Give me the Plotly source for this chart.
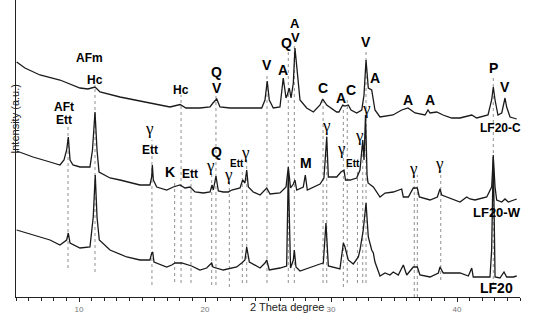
import plotly.graph_objects as go

# XRD patterns, 2 theta (deg) vs intensity (a.u.)
lf20c_2theta = [5.05, 5.71, 6.90, 8.49, 10.08, 10.71, 11.27, 11.67, 13.25, 14.84, 17.22, 18.02, 18.49, 19.60,
                20.40, 20.63, 20.93, 21.19, 21.98, 24.50, 24.76, 24.94, 25.10, 25.42, 25.95, 26.21, 26.43,
                26.53, 26.69, 26.83, 27.01, 27.14, 27.33, 27.54, 28.07, 28.60, 29.13, 29.34, 29.66, 30.45,
                30.63, 30.93, 31.11, 31.37, 31.59, 32.04, 32.44, 32.62, 32.78, 32.96, 33.23, 33.49, 33.89,
                34.92, 35.61, 36.11, 36.67, 37.46, 37.70, 37.86, 38.39, 38.89, 39.58, 40.24, 41.17, 41.56,
                42.46, 42.75, 42.88, 43.02, 43.25, 43.55, 43.81, 43.94, 44.21, 44.74]
lf20c_int = [235, 229, 222, 217, 209, 208, 210, 205, 200, 196, 190, 192.5, 189, 189,
             190, 194, 198, 190, 189, 189, 197, 216, 197, 189, 190, 219, 199,
             202, 209, 199, 214, 249, 220, 197, 189, 185, 192, 198, 192, 185,
             185, 192, 191, 192, 187, 184, 187, 202, 237, 209, 207, 187, 180,
             182, 187, 189, 184, 182, 187, 184, 185, 182, 179, 179, 182, 179,
             182, 197, 210, 197, 182, 184, 199, 190, 180, 178]

lf20w_2theta = [5.05, 6.35, 7.70, 8.49, 8.81, 9.02, 9.15, 9.29, 9.52, 10.08, 10.87, 11.07, 11.27, 11.43, 11.59,
                12.46, 13.25, 14.29, 14.84, 15.63, 15.77, 15.82, 15.90, 16.17, 16.96, 17.48, 18.02, 18.41,
                18.81, 19.21, 19.87, 20.40, 20.56, 20.66, 20.87, 21.06, 21.45, 21.85, 22.12, 22.78, 22.99,
                23.17, 23.31, 23.44, 23.83, 24.37, 24.63, 24.90, 25.16, 25.95, 26.43, 26.61, 26.79, 27.01,
                27.14, 27.28, 27.80, 27.96, 28.12, 29.13, 29.44, 29.66, 29.79, 30.45, 30.79, 31.03, 31.15,
                31.51, 32.04, 32.30, 32.52, 32.62, 32.74, 32.86, 32.94, 33.36, 33.89, 34.29, 34.94, 35.61,
                35.74, 36.14, 36.53, 36.85, 37.01, 37.86, 38.44, 38.65, 38.79, 39.44, 40.24, 40.77, 41.03,
                41.43, 42.36, 42.75, 42.88, 43.02, 43.15, 43.55, 43.81, 44.07, 44.46, 44.74]
lf20w_int = [146, 140, 135, 132, 137, 147, 160, 137, 132, 130, 130, 147, 185, 147, 125,
             119, 117, 114, 112, 112, 120, 132, 117, 110, 107, 110, 112, 109,
             110, 105, 104, 105, 112, 107, 121, 106, 105, 105, 107, 109, 117,
             114, 127, 110, 105, 102, 105, 109, 103, 104, 110, 130, 109, 113,
             117, 107, 110, 122, 107, 113, 119, 160, 120, 120, 125, 127, 117,
             117, 119, 127, 157, 137, 182, 122, 114, 110, 100, 104, 105, 108,
             100, 100, 109, 109, 100, 97, 100, 108, 102, 99, 95, 100, 98,
             97, 100, 110, 140, 110, 97, 95, 98, 95, 97, 98]

lf20_2theta = [5.05, 6.35, 7.70, 8.49, 9.02, 9.15, 9.29, 10.08, 10.87, 11.13, 11.29, 11.43, 11.61, 12.46, 13.79,
               14.84, 15.63, 15.77, 15.85, 15.95, 16.96, 17.36, 17.62, 18.15, 18.94, 19.60, 20.13, 20.53,
               20.63, 21.45, 22.52, 22.91, 23.17, 23.31, 23.52, 24.37, 24.76, 24.90, 25.10, 25.95, 26.48,
               26.61, 26.79, 27.01, 27.09, 27.22, 27.54, 29.13, 29.39, 29.60, 29.79, 30.71, 30.98, 31.11,
               31.37, 31.77, 32.17, 32.30, 32.56, 32.78, 32.96, 33.23, 33.36, 33.49, 33.89, 34.29, 34.68,
               34.94, 35.34, 35.74, 36.01, 36.53, 36.85, 37.06, 37.86, 38.52, 38.65, 38.91, 39.71, 40.24,
               40.90, 41.17, 41.29, 42.62, 42.75, 42.88, 43.02, 43.41, 43.73, 43.94, 44.46, 44.74]
lf20_int = [67, 62, 57, 52, 57, 64, 54, 49, 50, 80, 122, 80, 57, 47, 40,
            37, 37, 44, 45, 35, 30, 32, 34, 34, 31, 27, 29, 34,
            30, 27, 30, 34, 37, 50, 35, 29, 34, 37, 27, 29, 31,
            125, 29, 37, 47, 30, 26, 33, 34, 74, 31, 28, 54, 50,
            37, 33, 40, 47, 67, 94, 60, 47, 44, 35, 21, 24, 22,
            25, 22, 32, 22, 30, 30, 22, 20, 24, 30, 24, 24, 24,
            21, 29, 20, 20, 47, 142, 20, 19, 25, 20, 20, 21]

# dotted reference lines: peak position, top and bottom of the line
peak_2theta = [9.13, 11.27, 15.79, 17.59, 18.10, 18.89, 20.53, 20.87, 21.93, 22.96, 23.31, 24.92, 26.61,
               27.09, 29.37, 29.66, 30.98, 31.29, 32.10, 32.52, 32.78, 36.61, 36.85, 38.71, 42.88]
peak_top = [172, 212, 157, 117, 202, 117, 127, 202, 117, 127, 137, 222, 245,
            252, 200, 162, 192, 200, 127, 152, 247, 122, 122, 127, 222]
peak_bottom = [29, 25, 12, 15, 14, 14, 12, 12, 10, 14, 14, 14, 14,
               14, 14, 14, 10, 14, 14, 14, 14, 0, 0, 17, 12]

# phase labels: text, 2theta, intensity, font kind
phase_labels = [
    ("AFm", 10.87, 239, "b"), ("Hc", 11.27, 217, "b"), ("Hc", 18.10, 207, "b"),
    ("Q", 20.95, 225, "B"), ("V", 20.95, 209, "B"), ("V", 24.92, 232, "B"), ("A", 26.19, 227, "B"),
    ("Q", 26.50, 254, "B"), ("A", 27.16, 274, "m"), ("V", 27.16, 260, "m"), ("C", 29.37, 209, "B"),
    ("A", 30.76, 199, "B"), ("C", 31.56, 207, "B"), ("V", 32.78, 255, "B"), ("A", 33.49, 219, "B"),
    ("A", 36.11, 197, "B"), ("A", 37.86, 197, "B"), ("P", 42.86, 229, "B"), ("V", 43.81, 210, "B"),
    ("AFt", 8.81, 190, "b"), ("Ett", 8.81, 177, "b"), ("γ", 15.63, 169, "g"), ("Ett", 15.63, 147, "b"),
    ("K", 17.19, 125, "B"), ("Ett", 18.81, 123, "b"), ("γ", 20.40, 132, "g"), ("Q", 20.95, 145, "B"),
    ("γ", 21.83, 123, "g"), ("Ett", 22.54, 134, "s"), ("γ", 23.25, 145, "g"), ("M", 28.02, 134, "B"),
    ("γ", 29.68, 172, "g"), ("γ", 30.85, 149, "g"), ("Ett", 31.77, 134, "s"), ("γ", 32.25, 162, "g"),
    ("γ", 32.83, 189, "g"), ("γ", 36.51, 129, "g"), ("γ", 38.65, 134, "g"),
]
# sample names sit just right of the axis end, so x is in paper units
sample_labels = [("LF20-C", 1.006, 169, 12), ("LF20-W", 1.006, 85, 13), ("LF20", 0.99, 9, 14)]

fonts = {
    "B": dict(family="Liberation Sans, Arial", size=14, color="black", weight="bold"),
    "m": dict(family="Liberation Sans, Arial", size=13, color="black", weight="bold"),
    "b": dict(family="Liberation Sans, Arial", size=12, color="black", weight="bold"),
    "s": dict(family="Liberation Sans, Arial", size=10, color="black", weight="bold"),
    "g": dict(family="Liberation Serif, Times New Roman", size=17, color="black"),
}

fig = go.Figure()

for x, top, bottom in zip(peak_2theta, peak_top, peak_bottom):
    fig.add_trace(go.Scatter(x=[x, x], y=[bottom, top], mode="lines", hoverinfo="skip",
                             line=dict(color="#909090", width=1, dash="dot"), showlegend=False))

for xs, ys, name in [(lf20c_2theta, lf20c_int, "LF20-C"), (lf20w_2theta, lf20w_int, "LF20-W"),
                     (lf20_2theta, lf20_int, "LF20")]:
    fig.add_trace(go.Scatter(x=xs, y=ys, mode="lines", name=name, showlegend=False,
                             line=dict(color="#1a1a1a", width=1.3)))

for text, x, y, kind in phase_labels:
    fig.add_annotation(x=x, y=y, text=text, showarrow=False, font=fonts[kind])

for text, x, y, size in sample_labels:
    fig.add_annotation(xref="paper", x=x, y=y, text=text, showarrow=False,
                       font=dict(family="Liberation Sans, Arial", size=size, color="black", weight="bold"))

fig.add_annotation(xref="paper", yref="paper", x=0, y=0.6, xshift=-9, text="Intensity (a.u.)",
                   textangle=-90, showarrow=False,
                   font=dict(family="Liberation Sans, Arial", size=11, color="#222"))
fig.add_annotation(xref="paper", yref="paper", x=0.538, y=-0.062, text="2 Theta degree",
                   showarrow=False, font=dict(family="Liberation Sans, Arial", size=11, color="#222"))

fig.update_xaxes(range=[5, 45], showline=True, linecolor="#222", linewidth=1.2, showgrid=False,
                 zeroline=False, ticks="outside", tickvals=[10, 20, 30, 40], ticklen=4, tickcolor="#222",
                 tickfont=dict(family="Liberation Sans, Arial", size=8, color="#777"),
                 minor=dict(ticks="outside", dtick=1, tick0=5, ticklen=3, tickcolor="#222"))
fig.update_yaxes(range=[0, 297], showline=True, linecolor="#222", linewidth=1.2, showgrid=False,
                 zeroline=False, showticklabels=False, ticks="")
fig.update_layout(width=550, height=324, margin=dict(l=16, r=30, t=0, b=27),
                  plot_bgcolor="white", paper_bgcolor="white")

# drop the default body margin so the figure sits at the page corner
fig.write_html("out.html", config={"displayModeBar": False},
               post_script="document.body.style.margin = '0';")
